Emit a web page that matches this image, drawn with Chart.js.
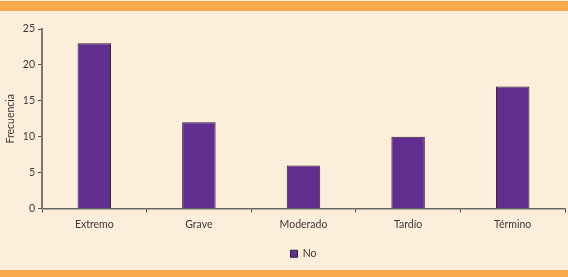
<!DOCTYPE html>
<html>
<head>
<meta charset="utf-8">
<script src="https://cdn.jsdelivr.net/npm/chart.js@4/dist/chart.umd.min.js"></script>
<style>
  html, body { margin: 0; padding: 0; background: #fdeedc; }
  #wrap { position: relative; width: 568px; height: 277px; background: #fdeedc; overflow: hidden; }
  .band { position: absolute; left: 0; width: 568px; background: #f9a94b; }
  #top { top: 1px; height: 10px; }
  #bottom { top: 270px; height: 7px; }
  canvas { position: absolute; left: 0; top: 0; }
</style>
</head>
<body>
<div id="wrap">
  <div class="band" id="top"></div>
  <div class="band" id="bottom"></div>
  <canvas id="chart" width="568" height="277"></canvas>
</div>
<script>
const categories = ['Extremo', 'Grave', 'Moderado', 'Tardío', 'Término'];
const noValues = [23, 12, 6, 10, 17];
const yTicks = [0, 5, 10, 15, 20, 25];

const font = { family: 'Lato, "Liberation Sans", sans-serif', size: 10.5 };

new Chart(document.getElementById('chart').getContext('2d'), {
  type: 'bar',
  data: {
    labels: categories,
    datasets: [{
      label: 'No',
      data: noValues,
      backgroundColor: '#612d8f',
      borderColor: '#2e2233',
      borderWidth: 1,
      categoryPercentage: 1,
      barPercentage: 0.32,
    }],
  },
  options: {
    responsive: false,
    animation: false,
    layout: { padding: { top: 29, right: 3, left: 0, bottom: 8 } },
    plugins: {
      tooltip: { enabled: false },
      legend: {
        position: 'bottom',
        fullSize: false,
        labels: {
          font,
          color: '#3a3a3a',
          boxWidth: 7,
          boxHeight: 7,
          padding: 6,
        },
      },
    },
    scales: {
      x: {
        afterFit: (s) => { s.height = 34; },
        grid: {
          offset: true,
          drawOnChartArea: false,
          tickLength: 4,
          color: '#444',
        },
        border: { color: '#666', width: 1.5 },
        ticks: { font, color: '#3a3a3a', padding: 6 },
      },
      y: {
        min: 0,
        max: 25,
        afterFit: (s) => { s.width = 42; },
        afterBuildTicks: (s) => { s.ticks = yTicks.map((v) => ({ value: v })); },
        grid: {
          drawOnChartArea: false,
          tickLength: 4,
          color: '#555',
        },
        border: { color: '#777', width: 2 },
        ticks: { font, color: '#3a3a3a', padding: 3 },
        title: {
          display: true,
          text: 'Frecuencia',
          font,
          color: '#3a3a3a',
          padding: { top: 4, bottom: 0 },
        },
      },
    },
  },
});
</script>
</body>
</html>
